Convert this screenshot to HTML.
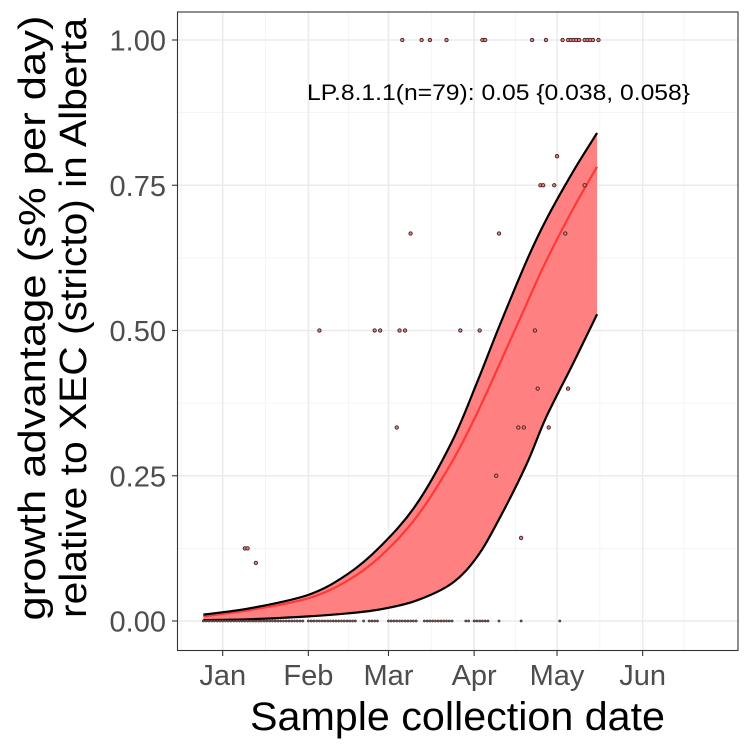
<!DOCTYPE html>
<html><head><meta charset="utf-8"><style>
html,body{margin:0;padding:0;background:#fff}
svg{display:block;font-family:"Liberation Sans",Arial,sans-serif}
</style></head><body>
<svg id="chart" width="750" height="750" viewBox="0 0 750 750">
<rect x="0" y="0" width="750" height="750" fill="#fff"/>
<g id="grid"></g>
<g id="band"></g>
<g id="pts"></g>
<rect x="177.5" y="12" width="560.5" height="638.5" fill="none" stroke="#333" stroke-width="1.1"/>
<g id="axes"></g>
<text x="498.5" y="100" font-size="22" text-anchor="middle" textLength="383" lengthAdjust="spacingAndGlyphs" fill="#000">LP.8.1.1(n=79): 0.05 {0.038, 0.058}</text>
<text x="457.5" y="730" font-size="40" text-anchor="middle" textLength="415" lengthAdjust="spacingAndGlyphs" fill="#000">Sample collection date</text>
<g transform="translate(45,318) rotate(-90)">
<text x="0" y="0" font-size="38" text-anchor="middle" textLength="605" lengthAdjust="spacingAndGlyphs" fill="#000">growth advantage (s% per day)</text>
<text x="0" y="41" font-size="38" text-anchor="middle" textLength="600" lengthAdjust="spacingAndGlyphs" fill="#000">relative to XEC (stricto) in Alberta</text>
</g>
</svg>
<script>
// x ticks: days since Jan 1 (2024)
const monthLabels = ["Jan","Feb","Mar","Apr","May","Jun"];
const monthDays = [0,31,60,91,121,152];
const yTicks = [0,0.25,0.5,0.75,1.0];
const yTickLabels = ["0.00","0.25","0.50","0.75","1.00"];
// fitted curve (day, lower, mean, upper)
const fitDays = [-7,10,31,45,57,70,83,92,100,110,117,127,135.5];
const fitLower = [0.0015,0.003,0.008,0.013,0.02,0.035,0.065,0.11,0.175,0.27,0.35,0.445,0.528];
const fitMean = [0.008,0.019,0.039,0.069,0.111,0.178,0.274,0.357,0.44,0.546,0.619,0.711,0.782];
const fitUpper = [0.011,0.022,0.045,0.08,0.128,0.2,0.309,0.41,0.506,0.62,0.69,0.775,0.84];
// observed points (day, proportion)
const ptDays = [65,72,75,81,94,95,112,117,123,125,126,127,128,129,131,132,133,134,136,
  121,115,116,120,131, 68,100,124, 35,55,57,64,66,86,93,113, 114,125, 63,107,109,118, 99, 108, 8,9,12];
const ptVals = [1,1,1,1,1,1,1,1,1,1,1,1,1,1,1,1,1,1,1,
  0.8,0.75,0.75,0.75,0.75, 0.667,0.667,0.667, 0.5,0.5,0.5,0.5,0.5,0.5,0.5,0.5, 0.4,0.4, 0.333,0.333,0.333,0.333, 0.25, 0.143, 0.125,0.125,0.1];
// zero-valued sample days, as ranges [start,end]
const zeroRanges = [[-7,29],[31,48],[51,51],[53,56],[60,70],[73,83],[88,89],[91,96],[100,100],[108,108],[122,122]];

const X0=222.7, PXD=2.763, Y0=621, Y1=40;
function xs(d){return X0+d*PXD;}
function ys(v){return Y0+(Y1-Y0)*v;}
const NS="http://www.w3.org/2000/svg";
function mk(tag,attrs,parent){const e=document.createElementNS(NS,tag);for(const k in attrs)e.setAttribute(k,attrs[k]);parent.appendChild(e);return e;}

const grid=document.getElementById('grid');
mk('rect',{x:177.5,y:12,width:560.5,height:638.5,fill:'#fff'},grid);
for(let i=0;i<yTicks.length-1;i++){
  const v=(yTicks[i]+yTicks[i+1])/2;
  const l=mk('line',{x1:177.5,x2:738,y1:ys(v),y2:ys(v),stroke:'#f2f2f2','stroke-width':0.8},grid);
  
  
}
const minorDays=[-15];
for(let i=0;i<monthDays.length-1;i++)minorDays.push((monthDays[i]+monthDays[i+1])/2);
minorDays.push(167);
minorDays.forEach(d=>{
  const l=mk('line',{x1:xs(d),x2:xs(d),y1:12,y2:650.5,stroke:'#f2f2f2','stroke-width':0.8},grid);
  
  
});
yTicks.forEach(v=>{
  const l=mk('line',{x1:177.5,x2:738,y1:ys(v),y2:ys(v),stroke:'#ebebeb','stroke-width':1.6},grid);
  
  
});
monthDays.forEach(d=>{
  const l=mk('line',{x1:xs(d),x2:xs(d),y1:12,y2:650.5,stroke:'#ebebeb','stroke-width':1.6},grid);
  
  
});

function smooth(days,vals){
  const p=days.map((d,i)=>[xs(d),ys(vals[i])]);
  let s='M'+p[0][0]+','+p[0][1];
  for(let i=0;i<p.length-1;i++){
    const p0=p[Math.max(0,i-1)],p1=p[i],p2=p[i+1],p3=p[Math.min(p.length-1,i+2)];
    const c1=[p1[0]+(p2[0]-p0[0])/6,p1[1]+(p2[1]-p0[1])/6];
    const c2=[p2[0]-(p3[0]-p1[0])/6,p2[1]-(p3[1]-p1[1])/6];
    s+=' C'+c1[0]+','+c1[1]+' '+c2[0]+','+c2[1]+' '+p2[0]+','+p2[1];
  }
  return s;
}
const band=document.getElementById('band');
const up=smooth(fitDays,fitUpper);
const loR=smooth(fitDays.slice().reverse(),fitLower.slice().reverse());
const fill=mk('path',{d:up+' L'+loR.slice(1)+' Z',fill:'#ff8080',stroke:'none'},band);


const ml=mk('path',{d:smooth(fitDays,fitMean),fill:'none',stroke:'#ff3838','stroke-width':2.2},band);


const ul=mk('path',{d:up,fill:'none',stroke:'#000','stroke-width':2.2},band);


const ll=mk('path',{d:smooth(fitDays,fitLower),fill:'none',stroke:'#000','stroke-width':2.2},band);



const pts=document.getElementById('pts');
zeroRanges.forEach(r=>{for(let d=r[0];d<=r[1];d++){
  const c=mk('circle',{cx:xs(d),cy:ys(0),r:1.1,fill:'#a05050',stroke:'#333','stroke-width':0.6},pts);
  
  
}});
ptDays.forEach((d,i)=>{
  const c=mk('circle',{cx:xs(d),cy:ys(ptVals[i]),r:1.7,fill:'#f08080',stroke:'#3a2020','stroke-width':0.9},pts);
  
  
});

const axes=document.getElementById('axes');
yTicks.forEach((v,i)=>{
  const t=mk('line',{x1:172,x2:177.5,y1:ys(v),y2:ys(v),stroke:'#333','stroke-width':1.1},axes);
  
  
  const tx=mk('text',{x:166,y:ys(v)+10.5,'font-size':29,'text-anchor':'end',fill:'#4d4d4d'},axes);
  tx.textContent=yTickLabels[i];
  
  
});
monthDays.forEach((d,i)=>{
  const t=mk('line',{x1:xs(d),x2:xs(d),y1:650.5,y2:656,stroke:'#333','stroke-width':1.1},axes);
  
  
  const tx=mk('text',{x:xs(d),y:685,'font-size':29,'text-anchor':'middle',fill:'#4d4d4d'},axes);
  tx.textContent=monthLabels[i];
  
  
});
</script>
</body></html>
